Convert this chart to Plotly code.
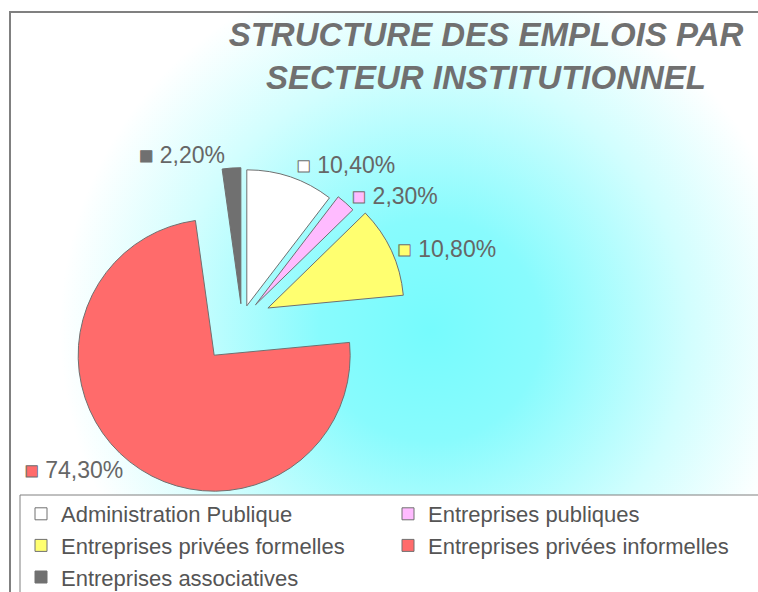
import base64
import plotly.graph_objects as go

# ---- data ----
categories = ["Administration Publique", "Entreprises publiques",
              "Entreprises privées formelles", "Entreprises privées informelles",
              "Entreprises associatives"]
values = [10.4, 2.3, 10.8, 74.3, 2.2]
colors = ["#ffffff", "#ffbbff", "#ffff70", "#ff6b6b", "#707070"]
pulls = [0.11, 0.15, 0.21, 0.33, 0.12]
title_text = "STRUCTURE DES EMPLOIS PAR<br>SECTEUR INSTITUTIONNEL"

W, H = 758, 592
FONT = "Liberation Sans, Arial, sans-serif"

labels_text = [
    "<span style='fill:{c};stroke:#707070;stroke-width:1px'>■</span> {v}%".format(
        c=c, v=("%.2f" % v).replace(".", ","))
    for c, v in zip(colors, values)
]

# background gradient (decoration)
svg = ("<svg xmlns='http://www.w3.org/2000/svg' width='748' height='580' viewBox='0 0 748 580' preserveAspectRatio='none'>"
       "<defs><radialGradient id='g' gradientUnits='userSpaceOnUse' cx='420' cy='318' r='370'>"
       "<stop offset='0' stop-color='#76fbfd'/>"
       "<stop offset='0.3' stop-color='#88fbfd'/>"
       "<stop offset='0.7' stop-color='#d2fefe'/>"
       "<stop offset='1' stop-color='#ffffff'/>"
       "</radialGradient></defs>"
       "<rect x='0' y='0' width='748' height='580' fill='url(#g)'/></svg>")
src = "data:image/svg+xml;base64," + base64.b64encode(svg.encode()).decode()

# pie centre (242, 320) px, radius ~136 px, max pull 0.33
cx, cy, half = 242, 320, 136 * 1.33
fig = go.Figure(go.Pie(
    labels=categories,
    values=values,
    text=labels_text,
    texttemplate="%{text}",
    textposition="outside",
    textfont=dict(family=FONT, size=23, color="#666666"),
    marker=dict(colors=colors, line=dict(color="#707070", width=1)),
    pull=pulls,
    sort=False,
    direction="clockwise",
    rotation=0,
    automargin=False,
    domain=dict(x=[(cx - half) / W, (cx + half) / W],
                y=[1 - (cy + half) / H, 1 - (cy - half) / H]),
    hoverinfo="label+value",
))

fig.update_layout(
    width=W, height=H,
    margin=dict(l=0, r=0, t=0, b=0, autoexpand=False),
    paper_bgcolor="white",
    title=dict(text="<b><i>" + title_text + "</i></b>", x=486 / W, xanchor="center",
               y=1 - 46 / H, yanchor="top",
               font=dict(family=FONT, size=33, color="#707070")),
    legend=dict(orientation="h", x=21 / W, xanchor="left", y=1 - 493 / H, yanchor="top",
                entrywidth=322, entrywidthmode="pixels",
                font=dict(family=FONT, size=22, color="#555555"),
                bgcolor="rgba(0,0,0,0)", borderwidth=0, traceorder="normal"),
    images=[dict(source=src, xref="paper", yref="paper", x=10 / W, y=1 - 12 / H,
                 sizex=748 / W, sizey=580 / H, xanchor="left", yanchor="top",
                 sizing="stretch", layer="below")],
    shapes=[
        dict(type="rect", xref="paper", yref="paper", x0=10 / W, x1=1.05, y0=-0.05, y1=1 - 12 / H,
             line=dict(color="#808080", width=2), layer="above"),
        dict(type="rect", xref="paper", yref="paper", x0=20 / W, x1=1.05, y0=-0.05, y1=1 - 495 / H,
             line=dict(color="#808080", width=1), fillcolor="white", layer="below"),
    ],
    showlegend=True,
)

fig.write_html("out.html", config={"displayModeBar": False},
               post_script="document.body.style.margin='0';document.body.style.overflow='hidden';")
